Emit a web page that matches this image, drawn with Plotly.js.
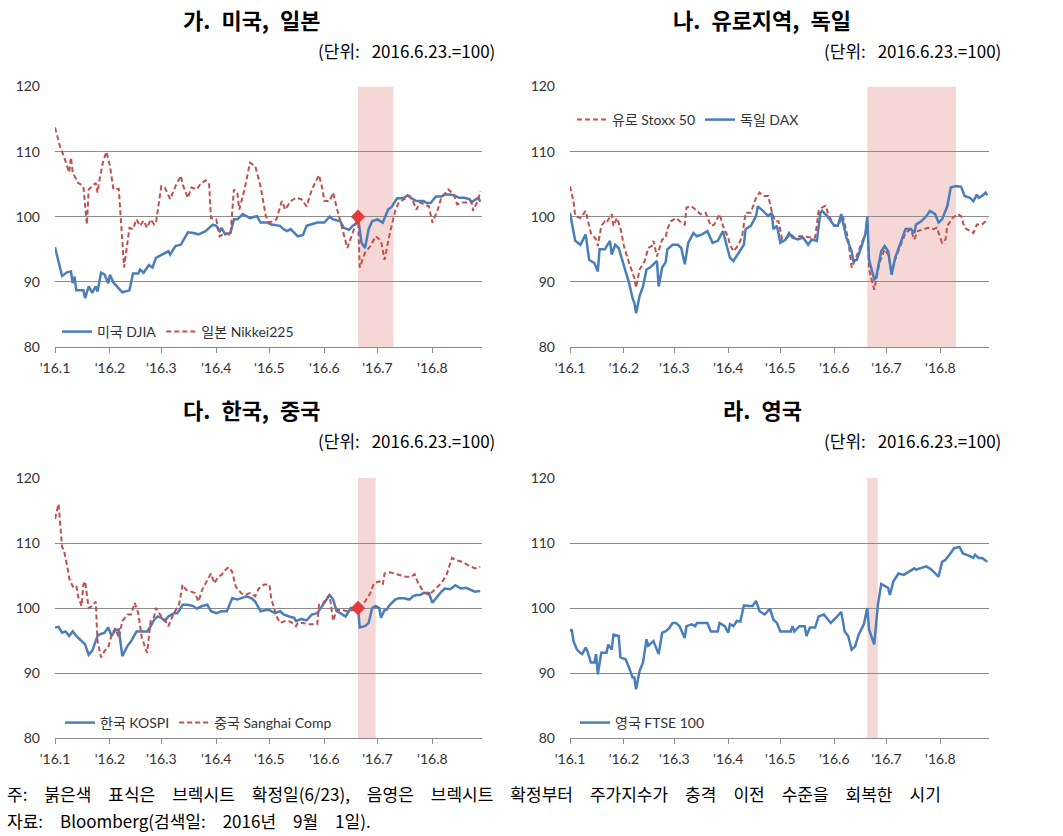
<!DOCTYPE html>
<html>
<head>
<meta charset="utf-8">
<script src="https://cdn.plot.ly/plotly-3.0.1.min.js"></script>
<style>
  html, body { margin: 0; padding: 0; background: #ffffff; }
  #chart { width: 1063px; height: 836px; }
</style>
</head>
<body>
<div id="chart"></div>
<script>
// ---------------- DATA (2016, index: 2016.6.23 = 100) ----------------
const tickDates  = ["01-04","02-04","03-04","04-04","05-04","06-04","07-04","08-04"];
const tickLabels = ["'16.1","'16.2","'16.3","'16.4","'16.5","'16.6","'16.7","'16.8"];

const panelTitles = ["가. 미국, 일본", "나. 유로지역, 독일", "다. 한국, 중국", "라. 영국"];
const unitNote = "(단위:\u2002\u20092016.6.23.=100)";

const brexitDate = "06-23";
const brexitValue = 100;
const shadeStart = ["06-23", "06-23", "06-23", "06-23"];
const shadeEnd   = ["07-13", "08-13", "07-03", "06-29"];

// 가. 미국 DJIA
const djiaDates = [
  "01-04","01-08","01-11","01-13","01-14","01-15","01-16","01-20","01-21","01-23","01-25","01-27","01-28","01-30",
  "02-01","02-03","02-04","02-06","02-11","02-14","02-15","02-17","02-20","02-21","02-23","02-26","02-28",
  "03-01","03-05","03-08","03-09","03-12","03-15","03-19","03-22","03-25","03-29",
  "04-02","04-04","04-06","04-07","04-09","04-12","04-14","04-16","04-19","04-21","04-23","04-27","04-29",
  "05-03","05-05","05-10","05-12","05-14","05-16","05-20","05-23","05-25","05-29","05-31",
  "06-04","06-07","06-09","06-13","06-15","06-18","06-20","06-22","06-23","06-24","06-25","06-27","06-29",
  "07-01","07-04","07-07","07-08","07-10","07-12","07-15","07-19","07-21","07-24","07-26","07-30",
  "08-01","08-03","08-06","08-09","08-11","08-14","08-17","08-19","08-22","08-25","08-26","08-28","08-30","08-31"];
const djiaValues = [
  95.3,90.9,91.5,91.6,89.8,90.8,88.7,88.7,87.5,89.3,88.3,89.3,88.5,91.4,
  91.1,89.8,91.1,89.9,88.4,88.7,88.7,91.3,91.3,91.9,91.4,92.6,92.2,
  93.7,94.2,94.7,94.2,95.5,95.7,97.6,97.5,97.3,97.8,
  98.8,98.6,97.8,98.3,97.3,97.5,99.6,99.6,100.4,100.1,99.8,100.1,99.1,
  99.1,98.8,98.6,98.1,97.8,98.1,97.0,97.2,98.6,99.0,99.1,
  99.1,100.0,99.6,99.3,98.3,98.0,98.6,99.0,100.0,97.5,96.0,95.2,98.1,
  99.3,99.6,99.1,99.8,101.1,101.5,102.8,102.9,103.3,102.7,102.4,102.4,
  102.1,102.1,103.1,103.1,103.4,103.4,103.2,102.9,102.9,102.7,102.2,102.6,102.9,102.3];

// 가. 일본 Nikkei225
const nikkeiDates = [
  "01-04","01-07","01-09","01-12","01-13","01-14","01-17","01-20","01-22","01-23","01-25","01-27","01-28","01-29","01-31",
  "02-02","02-04","02-06","02-09","02-10","02-12","02-15","02-17","02-19","02-21","02-23","02-25","02-27","02-29",
  "03-01","03-04","03-06","03-09","03-12","03-15","03-16","03-19","03-21","03-24","03-26","03-29","03-31",
  "04-01","04-04","04-06","04-09","04-12","04-14","04-16","04-17","04-20","04-23","04-26","04-29",
  "05-02","05-04","05-08","05-11","05-13","05-16","05-19","05-22","05-25","05-28",
  "06-01","06-03","06-04","06-07","06-09","06-11","06-14","06-17","06-20","06-23","06-24","06-27","06-30",
  "07-03","07-06","07-08","07-11","07-14","07-16","07-19","07-22","07-24","07-26","07-28","07-31",
  "08-02","08-04","08-07","08-09","08-13","08-16","08-18","08-21","08-24","08-26","08-27","08-30","08-31"];
const nikkeiValues = [
  113.7,110.6,109.3,106.8,109.1,106.8,105.2,104.7,98.8,104.2,104.7,105.2,103.7,105.5,108.3,
  110.0,107.8,104.2,104.3,99.6,92.2,98.3,98.1,99.6,98.6,99.4,98.3,99.6,98.8,
  99.1,104.7,104.5,102.7,104.7,106.3,105.0,102.9,104.5,104.2,105.0,105.6,105.0,
  99.8,99.6,97.0,97.5,97.2,104.2,103.5,101.1,104.2,108.3,107.8,104.7,
  100.1,99.1,99.6,102.4,101.1,102.4,102.9,102.7,101.6,104.2,
  106.4,104.2,102.4,102.4,103.7,101.4,98.1,95.2,97.5,100.0,92.2,94.5,95.5,
  97.0,96.3,93.4,97.5,100.9,102.2,102.7,103.2,102.4,101.1,102.2,101.9,
  101.6,99.1,101.1,102.9,104.2,103.5,101.9,102.2,102.2,102.4,100.9,102.7,103.9];

// 나. 유로 Stoxx 50
const stoxxDates = [
  "01-04","01-06","01-07","01-10","01-13","01-14","01-16","01-19","01-20","01-22","01-24","01-25","01-28","01-29","01-31",
  "02-02","02-04","02-07","02-10","02-11","02-13","02-16","02-18","02-20","02-21","02-23","02-26","02-28","02-29",
  "03-02","03-05","03-08","03-10","03-11","03-14","03-17","03-19","03-22","03-25","03-27","03-30",
  "04-01","04-04","04-05","04-07","04-10","04-12","04-14","04-17","04-20","04-22","04-24","04-27","04-29",
  "05-01","05-03","05-05","05-08","05-10","05-12","05-15","05-18","05-21","05-24","05-26","05-28","05-30",
  "06-01","06-04","06-07","06-09","06-12","06-14","06-16","06-19","06-22","06-23","06-24","06-27","06-30",
  "07-03","07-05","07-07","07-09","07-12","07-15","07-18","07-20","07-22","07-25","07-28","07-31",
  "08-02","08-05","08-07","08-08","08-11","08-14","08-16","08-18","08-21","08-23","08-25","08-28","08-30","08-31"];
const stoxxValues = [
  104.7,102.4,100.1,99.8,100.9,99.6,97.5,96.5,95.5,98.6,99.3,99.1,100.4,98.6,99.8,
  98.3,95.5,92.9,90.6,89.1,91.9,93.2,95.2,95.5,96.3,93.9,96.5,96.8,98.1,
  99.3,99.8,99.1,98.8,101.4,101.6,100.9,100.4,100.6,98.6,98.8,100.4,
  98.6,96.8,95.7,94.7,95.7,97.0,100.6,100.6,102.9,103.7,103.2,103.2,100.9,
  99.3,99.3,96.5,96.8,97.3,96.8,97.0,97.0,96.8,96.8,100.9,101.4,101.7,
  100.1,98.6,99.1,100.1,96.5,92.2,93.4,95.5,97.5,100.0,91.9,88.8,92.9,
  95.0,94.2,91.6,93.4,95.5,97.5,98.1,96.5,97.8,98.1,98.3,98.1,
  98.3,96.0,96.5,98.6,99.8,100.4,100.1,98.3,97.8,97.5,98.8,98.8,99.3,99.8];

// 나. 독일 DAX
const daxDates = [
  "01-04","01-07","01-10","01-13","01-15","01-18","01-20","01-21","01-24","01-25","01-27","01-28","01-30",
  "02-01","02-04","02-07","02-09","02-10","02-11","02-13","02-15","02-17","02-19","02-21","02-23","02-24","02-26","02-28","02-29",
  "03-03","03-06","03-08","03-10","03-12","03-15","03-17","03-20","03-23","03-26","03-29",
  "04-01","04-03","04-05","04-07","04-10","04-13","04-14","04-17","04-20","04-21","04-24","04-27","04-29","04-30",
  "05-02","05-04","05-07","05-09","05-11","05-14","05-17","05-20","05-22","05-25","05-27","05-28","05-31",
  "06-02","06-04","06-06","06-08","06-11","06-14","06-15","06-17","06-20","06-22","06-23","06-24","06-27","06-28",
  "07-01","07-03","07-05","07-07","07-09","07-12","07-15","07-18","07-20","07-21","07-24","07-27","07-29",
  "08-01","08-03","08-05","08-07","08-08","08-10","08-13","08-16","08-18","08-21","08-23","08-25","08-26","08-28","08-30","08-31"];
const daxValues = [
  100.6,96.3,95.7,97.3,93.4,92.9,91.6,95.0,95.0,95.5,96.3,94.2,95.7,
  95.2,92.4,89.8,87.5,86.8,85.2,87.8,89.3,91.9,92.2,92.7,93.2,89.3,92.2,93.0,95.0,
  95.7,95.7,95.2,92.7,96.0,97.5,97.0,97.3,97.8,96.0,96.3,
  97.8,95.7,93.7,93.2,94.5,95.7,98.1,98.6,100.1,101.6,100.9,100.1,100.6,98.1,
  98.6,96.0,96.5,97.5,96.8,96.5,96.8,95.7,96.5,96.3,100.6,100.9,100.1,
  99.3,98.6,98.6,100.4,96.8,94.7,93.2,93.4,95.7,97.5,100.0,93.4,90.4,90.6,
  94.7,95.5,94.7,91.1,93.7,96.0,98.1,98.1,97.5,98.8,99.3,100.1,100.9,
  100.4,99.1,99.6,101.1,101.6,104.5,104.7,104.6,103.2,102.9,102.4,103.4,102.9,103.2,103.7,103.3];

// 다. 한국 KOSPI
const kospiDates = [
  "01-04","01-06","01-08","01-10","01-12","01-14","01-16","01-19","01-21","01-23","01-25","01-28","01-29",
  "02-01","02-03","02-05","02-07","02-09","02-11","02-14","02-16","02-19","02-22","02-25","02-27","02-29",
  "03-02","03-04","03-06","03-08","03-11","03-13","03-15","03-16","03-19","03-22","03-24","03-27","03-30",
  "04-01","04-04","04-07","04-10","04-13","04-16","04-18","04-21","04-24","04-26","04-29",
  "05-02","05-04","05-07","05-10","05-12","05-15","05-18","05-19","05-22","05-25","05-28","05-31",
  "06-02","06-04","06-07","06-09","06-11","06-13","06-16","06-19","06-21","06-23","06-24","06-27","06-29",
  "07-01","07-03","07-05","07-06","07-08","07-09","07-11","07-14","07-16","07-19","07-22","07-24","07-26","07-28","07-30",
  "08-02","08-04","08-06","08-09","08-11","08-14","08-17","08-20","08-23","08-26","08-28","08-31"];
const kospiValues = [
  97.0,97.1,96.2,96.4,95.7,96.4,95.7,94.9,94.4,92.8,93.4,95.7,95.9,
  96.2,97.0,95.7,96.6,96.7,92.6,94.2,94.9,96.4,96.4,96.4,97.2,98.2,
  98.7,98.5,98.0,98.7,99.2,99.2,100.0,100.5,100.5,100.3,99.9,100.3,100.5,
  99.5,99.2,99.5,99.5,101.5,101.3,101.5,101.8,101.5,101.0,99.5,
  99.7,99.7,99.2,99.5,99.0,98.7,98.5,98.0,98.3,98.1,99.0,99.2,
  100.0,100.8,102.0,101.3,99.5,99.2,98.7,100.0,99.7,100.0,97.0,97.2,97.7,
  100.0,100.3,100.0,98.5,99.7,99.7,100.5,101.3,101.5,101.5,101.3,101.8,102.0,102.0,102.3,
  102.3,100.8,101.5,102.5,103.0,102.9,103.5,103.0,103.1,102.8,102.5,102.6];

// 다. 중국 Shanghai Comp
const shanghaiDates = [
  "01-04","01-06","01-08","01-09","01-11","01-12","01-14","01-16","01-17","01-19","01-20","01-21","01-23","01-25","01-27","01-28","01-30",
  "02-01","02-03","02-05","02-07","02-09","02-11","02-14","02-16","02-18","02-20","02-22","02-25","02-27","02-29",
  "03-01","03-04","03-06","03-08","03-11","03-14","03-16","03-18","03-21","03-23","03-25","03-27","03-30",
  "04-01","04-03","04-05","04-07","04-09","04-11","04-13","04-15","04-18","04-20","04-23","04-26","04-28",
  "05-01","05-04","05-05","05-08","05-10","05-13","05-16","05-19","05-20","05-23","05-26","05-29","05-31",
  "06-01","06-03","06-05","06-07","06-09","06-11","06-14","06-17","06-20","06-23","06-25","06-27","06-30",
  "07-02","07-05","07-07","07-08","07-11","07-14","07-17","07-20","07-23","07-25","07-27","07-30",
  "08-02","08-05","08-07","08-09","08-12","08-15","08-18","08-21","08-24","08-26","08-28","08-31"];
const shanghaiValues = [
  113.7,116.0,109.4,108.9,106.3,104.6,103.3,103.5,101.8,100.3,103.6,104.1,100.0,100.3,101.0,94.9,92.4,
  93.4,93.9,95.9,96.9,95.4,98.0,99.0,99.0,100.8,99.2,95.4,93.1,98.0,98.7,
  100.0,98.7,98.2,97.2,99.2,100.5,103.6,102.8,102.5,102.3,101.0,102.8,104.3,
  105.3,103.8,104.8,105.1,105.8,106.3,105.6,103.3,102.3,102.0,102.3,101.8,103.0,
  103.6,103.6,101.5,98.7,97.7,98.0,97.9,97.2,97.7,97.7,97.5,97.5,97.5,
  100.5,100.5,101.5,102.0,98.0,99.7,99.7,99.5,99.7,100.0,100.3,101.0,102.3,
  103.8,104.1,103.6,105.3,105.5,105.3,105.1,104.8,104.8,105.2,103.8,102.5,
  102.0,102.8,103.3,103.8,105.1,107.7,107.3,107.1,106.6,106.3,106.1,106.3];

// 라. 영국 FTSE 100
const ftseDates = [
  "01-04","01-05","01-06","01-08","01-10","01-11","01-13","01-14","01-16","01-18","01-19","01-20","01-22","01-24","01-25","01-26","01-28","01-29",
  "02-01","02-02","02-05","02-07","02-09","02-10","02-11","02-13","02-15","02-17","02-18","02-21","02-24","02-26","02-28",
  "03-01","03-03","03-05","03-07","03-10","03-11","03-14","03-16","03-17","03-20","03-23","03-25","03-29","03-30",
  "04-02","04-04","04-05","04-07","04-09","04-11","04-13","04-16","04-18","04-20","04-21","04-22","04-25","04-28","04-30",
  "05-02","05-04","05-07","05-10","05-11","05-12","05-15","05-18","05-19","05-21","05-24","05-26","05-29","05-30",
  "06-02","06-05","06-08","06-10","06-12","06-14","06-16","06-18","06-21","06-23","06-24","06-27","06-29",
  "07-01","07-03","07-05","07-06","07-08","07-11","07-14","07-17","07-20","07-21","07-24","07-27","07-30",
  "08-03","08-05","08-07","08-09","08-12","08-15","08-17","08-20","08-23","08-24","08-26","08-28","08-31"];
const ftseValues = [
  96.4,96.7,94.9,93.6,93.1,92.9,93.9,93.4,91.6,91.6,92.9,89.8,93.1,93.1,93.1,94.4,93.6,95.9,
  95.7,92.4,92.1,90.8,89.3,89.3,87.5,90.3,91.6,95.2,94.2,94.9,92.9,96.2,96.4,
  96.9,97.7,97.7,97.2,95.4,97.2,97.5,97.2,97.7,97.7,97.7,96.4,96.4,97.7,
  97.2,96.2,97.5,97.2,98.0,97.9,100.4,100.3,100.3,101.1,100.3,99.5,99.0,99.9,98.2,
  97.7,96.4,96.4,96.4,97.2,96.4,97.2,97.2,95.7,97.0,97.0,98.7,99.0,98.7,
  97.7,98.5,99.4,96.4,95.7,93.6,94.1,95.9,97.5,100.0,96.7,94.4,100.3,
  103.7,103.4,103.1,102.0,104.1,105.3,105.1,105.6,106.1,105.9,106.1,106.4,105.9,
  104.8,107.1,107.4,108.1,109.2,109.4,108.4,108.1,107.7,108.2,107.7,107.7,107.1];

const SP = "\u2003";
const footnote1 = ["주:", "붉은색", "표식은", "브렉시트", "확정일(6/23),", "음영은", "브렉시트", "확정부터", "주가지수가", "충격", "이전", "수준을", "회복한", "시기"];
const footnote2 = ["자료:", "Bloomberg(검색일:", "2016년", "9월", "1일)."];

// ---------------- RENDERING ----------------
const Y = "2016-";
const toDate = arr => arr.map(s => Y + s);

const BLUE = "#4a7ebb";
const RED = "#c0504d";
const KR = "'Noto Sans CJK KR', sans-serif";
const TICKFONT = "Lato, 'Noto Sans CJK KR', sans-serif";
const W = 1063, H = 836;

const panels = [
  { ax: "", xd: [55, 482],  yd: [86.5, 347], title: [252, 19],  note: [497, 50],  legend: [57, 332] },
  { ax: "2", xd: [570, 989], yd: [86.5, 347], title: [762, 19],  note: [1003, 50], legend: [572, 120] },
  { ax: "3", xd: [55, 482],  yd: [478, 738],  title: [252, 409], note: [497, 440], legend: [60, 723] },
  { ax: "4", xd: [570, 989], yd: [478, 738],  title: [762, 409], note: [1003, 440], legend: [575, 723] }
];

const seriesByPanel = [
  [ { name: "미국 DJIA", x: djiaDates, y: djiaValues, color: BLUE, dash: "solid", width: 2.5 },
    { name: "일본 Nikkei225", x: nikkeiDates, y: nikkeiValues, color: RED, dash: "5px,3px", width: 2 } ],
  [ { name: "유로 Stoxx 50", x: stoxxDates, y: stoxxValues, color: RED, dash: "5px,3px", width: 2 },
    { name: "독일 DAX", x: daxDates, y: daxValues, color: BLUE, dash: "solid", width: 2.5 } ],
  [ { name: "한국 KOSPI", x: kospiDates, y: kospiValues, color: BLUE, dash: "solid", width: 2.5 },
    { name: "중국 Sanghai Comp", x: shanghaiDates, y: shanghaiValues, color: RED, dash: "5px,3px", width: 2 } ],
  [ { name: "영국 FTSE 100", x: ftseDates, y: ftseValues, color: BLUE, dash: "solid", width: 2.5 } ]
];
const markerPanels = [0, 2];

const traces = [];
const layout = {
  width: W, height: H,
  margin: { l: 0, r: 0, t: 0, b: 0 },
  paper_bgcolor: "#ffffff", plot_bgcolor: "#ffffff",
  font: { family: TICKFONT, color: "#262626" },
  shapes: [], annotations: []
};

panels.forEach((p, i) => {
  const xa = "x" + p.ax, ya = "y" + p.ax;
  const legendId = "legend" + (i === 0 ? "" : (i + 1));
  seriesByPanel[i].forEach(s => {
    traces.push({
      type: "scatter", mode: "lines",
      x: toDate(s.x), y: s.y, name: s.name,
      xaxis: xa, yaxis: ya, legend: legendId,
      line: { color: s.color, width: s.width, dash: s.dash },
      hoverinfo: "skip"
    });
  });
  if (markerPanels.includes(i)) {
    traces.push({
      type: "scatter", mode: "markers",
      x: [Y + brexitDate], y: [brexitValue],
      xaxis: xa, yaxis: ya, showlegend: false,
      marker: { symbol: "diamond", size: 11, color: "#e23b3b" },
      hoverinfo: "skip"
    });
  }
  layout["xaxis" + p.ax] = {
    domain: [p.xd[0] / W, p.xd[1] / W],
    anchor: ya, type: "date",
    range: [Y + "01-04", Y + "09-01"],
    tickmode: "array", tickvals: toDate(tickDates), ticktext: tickLabels,
    showline: true, linecolor: "#8c8c8c", linewidth: 1,
    ticks: "outside", ticklen: 5, tickcolor: "#8c8c8c",
    showgrid: false, zeroline: false,
    ticklabelstandoff: 3,
    tickfont: { size: 14, color: "#333333" }, fixedrange: true
  };
  layout["yaxis" + p.ax] = {
    domain: [1 - p.yd[1] / H, 1 - p.yd[0] / H],
    anchor: xa, range: [80, 120],
    tickmode: "array", tickvals: [80, 90, 100, 110, 120],
    showgrid: true, gridcolor: "#8c8c8c", gridwidth: 1,
    zeroline: false, showline: false, ticks: "",
    ticklabelstandoff: 14,
    tickfont: { size: 14, color: "#333333" }, fixedrange: true
  };
  layout[legendId] = {
    x: p.legend[0] / W, y: 1 - p.legend[1] / H,
    xanchor: "left", yanchor: "middle",
    orientation: "h", bgcolor: "rgba(0,0,0,0)",
    font: { size: 14, color: "#333333", family: TICKFONT },
    itemwidth: 30, tracegroupgap: 0
  };
  layout.shapes.push({
    type: "rect", xref: xa, yref: ya, layer: "below",
    x0: Y + shadeStart[i], x1: Y + shadeEnd[i], y0: 80, y1: 120,
    fillcolor: "#f5d8d5", line: { width: 0 }
  });
  layout.annotations.push({
    text: "<b>" + panelTitles[i].replace(/ /g, "\u2002") + "</b>",
    xref: "paper", yref: "paper",
    x: p.title[0] / W, y: 1 - p.title[1] / H,
    xanchor: "center", yanchor: "middle", showarrow: false,
    font: { family: KR, size: 22, color: "#000000" }
  });
  layout.annotations.push({
    text: unitNote, xref: "paper", yref: "paper",
    x: p.note[0] / W, y: 1 - p.note[1] / H,
    xanchor: "right", yanchor: "middle", showarrow: false,
    font: { family: KR, size: 17, color: "#000000" }
  });
});

layout.annotations.push({
  text: footnote1.join(SP), xref: "paper", yref: "paper",
  x: 5 / W, y: 1 - 793 / H, xanchor: "left", yanchor: "middle", showarrow: false,
  font: { family: KR, size: 17, color: "#000000" }
});
layout.annotations.push({
  text: footnote2.join(SP), xref: "paper", yref: "paper",
  x: 5 / W, y: 1 - 820 / H, xanchor: "left", yanchor: "middle", showarrow: false,
  font: { family: KR, size: 17, color: "#000000" }
});

Plotly.newPlot("chart", traces, layout, { displayModeBar: false, staticPlot: true });
</script>
</body>
</html>
